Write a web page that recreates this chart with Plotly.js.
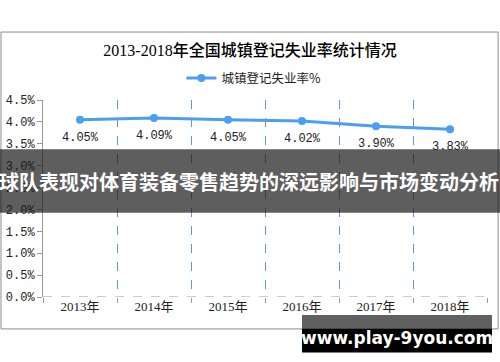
<!DOCTYPE html>
<html>
<head>
<meta charset="utf-8">
<script src="https://cdn.plot.ly/plotly-3.0.1.min.js"></script>
<style>html,body{margin:0;padding:0;background:#fff;}#chart{width:500px;height:362px;}</style>
</head>
<body>
<div id="chart"></div>
<script>
const years = ["2013年", "2014年", "2015年", "2016年", "2017年", "2018年"];
const rates = [4.05, 4.09, 4.05, 4.02, 3.90, 3.83];
const rateLabels = ["4.05%", "4.09%", "4.05%", "4.02%", "3.90%", "3.83%"];
const seriesName = "城镇登记失业率%";
const chartTitle = "2013-2018年全国城镇登记失业率统计情况";
const bannerText = "球队表现对体育装备零售趋势的深远影响与市场变动分析";
const siteText = "www.play-9you.com";

const serif = "'Liberation Serif', 'Noto Sans CJK SC', serif";
const mono = "'Liberation Mono', 'Noto Sans CJK SC', monospace";
const cjk = "'Noto Sans CJK SC', sans-serif";

const trace = {
  type: "scatter",
  mode: "lines+markers",
  x: years,
  y: rates,
  name: seriesName,
  line: {color: "#4a9ff0", width: 3},
  marker: {color: "#4a9ff0", size: 8},
  cliponaxis: false,
  hoverinfo: "skip"
};

const labelAnnotations = years.map((yr, i) => ({
  x: yr, y: rates[i], xref: "x", yref: "y", text: rateLabels[i],
  showarrow: false, yshift: -18, xanchor: "center", yanchor: "middle",
  font: {family: mono, size: 12, color: "#222"}
}));

const layout = {
  width: 500, height: 362,
  margin: {l: 43, r: 13, t: 100, b: 65},
  paper_bgcolor: "#fff", plot_bgcolor: "rgba(0,0,0,0)",
  title: {text: chartTitle, x: 0.5, xanchor: "center", y: 0.862, yanchor: "middle",
          font: {family: serif, size: 16, color: "#000", weight: 500}},
  showlegend: true,
  legend: {orientation: "h", x: 0.475, xanchor: "center", y: 1.11, yanchor: "middle",
           font: {family: cjk, size: 12.5, color: "#222"}, bgcolor: "rgba(0,0,0,0)"},
  xaxis: {
    type: "category",
    tickson: "boundaries",
    showgrid: true, gridcolor: "#5b9bd5", griddash: "dash", gridwidth: 1,
    showline: false, zeroline: false,
    ticks: "outside", ticklen: 5, tickcolor: "#999",
    tickfont: {family: serif, size: 13, color: "#222"},
    range: [-0.5, 5.5], fixedrange: true
  },
  yaxis: {
    range: [0, 4.5], dtick: 0.5, tickformat: ".1f", ticksuffix: "%",
    showgrid: false, zeroline: false,
    showline: true, linecolor: "#999", linewidth: 1,
    ticks: "outside", ticklen: 5, tickcolor: "#999",
    tickfont: {family: mono, size: 12, color: "#222"},
    fixedrange: true
  },
  shapes: [
    {type: "rect", xref: "paper", yref: "paper", x0: -0.0946, x1: 1.025, y0: -0.162, y1: 1.345,
     line: {color: "#8c8c8c", width: 1}, fillcolor: "rgba(0,0,0,0)", layer: "below"},
    {type: "line", xref: "paper", yref: "y", x0: 0, x1: 1, y0: 0, y1: 0,
     line: {color: "#999", width: 1, dash: "dash"}, layer: "below"},
    {type: "rect", xref: "paper", yref: "paper", x0: -0.2, x1: 1.2, y0: (297 - 212.7) / 197, y1: (297 - 149.3) / 197,
     line: {width: 0}, fillcolor: "rgba(25,25,25,0.7)", layer: "above"},
    {type: "rect", xref: "paper", yref: "paper", x0: (302 - 43) / 444, x1: (492 - 43) / 444,
     y0: (297 - 328.5) / 197, y1: (297 - 315) / 197,
     line: {width: 0}, fillcolor: "#606060", layer: "above"},
    {type: "rect", xref: "paper", yref: "paper", x0: (302 - 43) / 444, x1: (492 - 43) / 444,
     y0: (297 - 352.5) / 197, y1: (297 - 328.5) / 197,
     line: {width: 0}, fillcolor: "#000", layer: "above"}
  ],
  annotations: labelAnnotations.concat([
    {text: "<b>" + bannerText + "</b>", xref: "paper", yref: "paper",
     x: (249 - 43) / 444, y: (297 - 181) / 197, xanchor: "center", yanchor: "middle",
     showarrow: false, font: {family: cjk, size: 20, color: "#fff"}},
    {text: "<b>" + siteText + "</b>", xref: "paper", yref: "paper",
     x: (397 - 43) / 444, y: (297 - 338) / 197, xanchor: "center", yanchor: "middle",
     showarrow: false, font: {family: "'DejaVu Sans', sans-serif", size: 17, color: "#fff"}}
  ])
};

Plotly.newPlot("chart", [trace], layout, {displayModeBar: false, staticPlot: true});
</script>
</body>
</html>
